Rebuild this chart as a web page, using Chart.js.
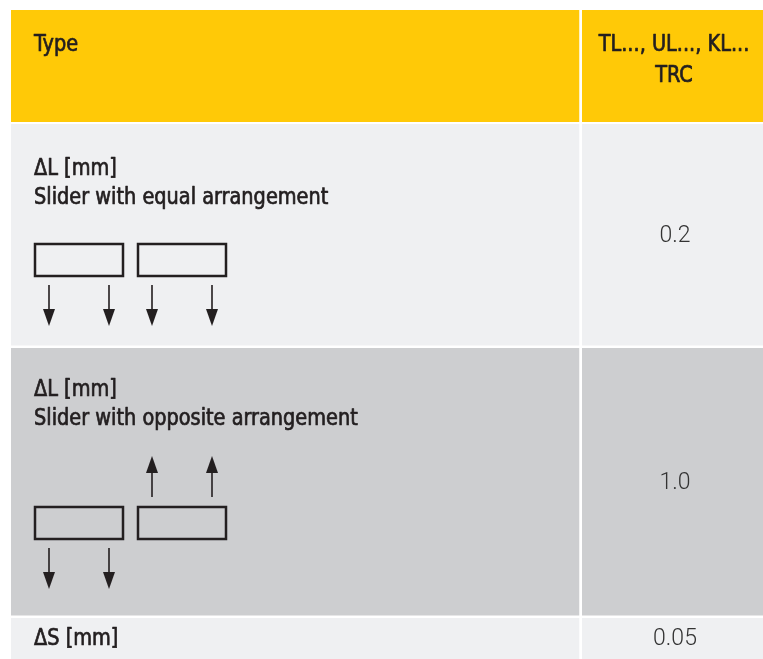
<!DOCTYPE html>
<html>
<head>
<meta charset="utf-8">
<script src="https://cdn.jsdelivr.net/npm/chart.js@4"></script>
<style>
html, body { margin: 0; padding: 0; background: #fff; }
#wrap { width: 763px; height: 659px; }
</style>
</head>
<body>
<div id="wrap"><canvas id="table"></canvas></div>
<script>
// table content
const headerLabels = ["Type", ["TL..., UL..., KL...", "TRC"]];
const rowTitles = ["ΔL [mm]", "ΔL [mm]", "ΔS [mm]"];
const rowSubtitles = ["Slider with equal arrangement", "Slider with opposite arrangement", ""];
const rowValues = ["0.2", "1.0", "0.05"];
// which way each slider moves in the sketch (null = no sketch)
const sliderMotion = [["down", "down"], ["down", "up"], null];

// layout, in table pixel units
const colEdges = [[11, 579.5], [582, 763]];
const rowEdges = [[10, 122], [124, 345.5], [348, 615.5], [618, 659]];
const rowColors = ["#ffc907", "#eff0f2", "#cdced0", "#eff0f2"];
const sketchTop = [244, 507, null];
const sliderLeft = [35, 138];
const sliderW = 88, sliderH = 32;
const ink = "#231f20";
const labelFont = "'Liberation Sans Narrow', 'DejaVu Sans Condensed', 'Roboto', sans-serif";
const squeeze = 0.934; // narrow the condensed face a bit more

const datasets = [];

// cell backgrounds (high order = drawn first, behind the sketches)
rowEdges.forEach(([top, bottom], r) => {
	colEdges.forEach(([left, right]) => {
		datasets.push({
			data: [{ x: left, y: top }, { x: right, y: top }],
			showLine: true,
			borderWidth: 0,
			pointRadius: 0,
			backgroundColor: rowColors[r],
			fill: { value: bottom },
			order: 2,
		});
	});
});

// slider sketches
sliderMotion.forEach((motion, i) => {
	if (!motion) return;
	const top = sketchTop[i];
	motion.forEach((dir, s) => {
		const x0 = sliderLeft[s], x1 = x0 + sliderW, y1 = top + sliderH;
		datasets.push({
			data: [{ x: x0, y: top }, { x: x1, y: top }, { x: x1, y: y1 }, { x: x0, y: y1 }, { x: x0, y: top }],
			showLine: true,
			borderColor: ink,
			borderWidth: 2.5,
			borderJoinStyle: "miter",
			borderCapStyle: "square",
			pointRadius: 0,
			fill: false,
			order: 1,
		});
		[x0 + 14, x1 - 14].forEach((ax) => {
			const stem = dir === "down" ? [top + 41, top + 65] : [top - 10, top - 34];
			const tip = dir === "down" ? top + 82 : top - 51;
			datasets.push({
				data: [{ x: ax, y: stem[0] }, { x: ax, y: stem[1] }],
				showLine: true,
				borderColor: ink,
				borderWidth: 1.6,
				pointRadius: 0,
				fill: false,
				order: 1,
			});
			datasets.push({
				data: [{ x: ax - 6, y: stem[1] }, { x: ax, y: tip }, { x: ax + 6, y: stem[1] }],
				showLine: true,
				borderWidth: 0,
				pointRadius: 0,
				backgroundColor: ink,
				fill: { value: stem[1] },
				order: 1,
			});
		});
	});
});

// condensed, medium-looking label text
function squeezedText(ctx, text, px, py, align) {
	ctx.save();
	ctx.translate(px, py);
	ctx.scale(squeeze, 1);
	ctx.textAlign = align;
	ctx.fillText(text, 0, 0);
	ctx.strokeText(text, 0, 0);
	ctx.restore();
}

// texts, placed through the scales
const tableText = {
	id: "tableText",
	afterDatasetsDraw(chart) {
		const { ctx, scales: { x, y } } = chart;
		ctx.save();
		ctx.fillStyle = ink;
		ctx.strokeStyle = ink;
		ctx.lineWidth = 0.7;
		ctx.lineJoin = "round";
		ctx.textBaseline = "alphabetic";
		ctx.font = "23px " + labelFont;

		squeezedText(ctx, headerLabels[0], x.getPixelForValue(34), y.getPixelForValue(51), "left");
		headerLabels[1].forEach((line, k) => {
			squeezedText(ctx, line, x.getPixelForValue(674), y.getPixelForValue(51 + k * 31), "center");
		});

		const firstBase = [175, 396, 645];
		rowTitles.forEach((title, i) => {
			ctx.fillStyle = ink;
			ctx.font = "23px " + labelFont;
			squeezedText(ctx, title, x.getPixelForValue(34), y.getPixelForValue(firstBase[i]), "left");
			if (rowSubtitles[i]) {
				squeezedText(ctx, rowSubtitles[i], x.getPixelForValue(34), y.getPixelForValue(firstBase[i] + 29), "left");
			}
			const [top, bottom] = rowEdges[i + 1];
			ctx.textAlign = "center";
			ctx.textBaseline = "middle";
			ctx.fillStyle = "#333333";
			ctx.font = "300 23px 'Roboto', sans-serif";
			ctx.fillText(rowValues[i], x.getPixelForValue(675), y.getPixelForValue((top + bottom) / 2 + 1));
			ctx.textBaseline = "alphabetic";
		});
		ctx.restore();
	},
};

new Chart(document.getElementById("table"), {
	type: "scatter",
	data: { datasets: datasets },
	options: {
		responsive: true,
		maintainAspectRatio: false,
		animation: false,
		events: [],
		layout: { padding: 0 },
		plugins: {
			legend: { display: false },
			tooltip: { enabled: false },
		},
		scales: {
			x: { type: "linear", min: 0, max: 763, display: false },
			y: { type: "linear", min: 0, max: 659, reverse: true, display: false },
		},
	},
	plugins: [tableText],
});
</script>
</body>
</html>
